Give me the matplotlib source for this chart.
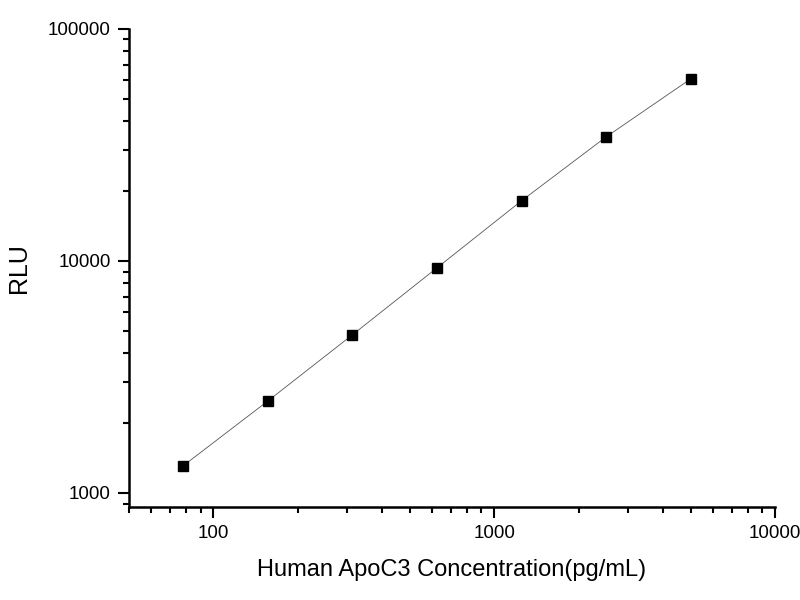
import matplotlib
matplotlib.use("Agg")
import matplotlib.pyplot as plt
from matplotlib.ticker import LogLocator, NullFormatter, FixedLocator, FixedFormatter

plt.rcParams['font.family'] = ['Liberation Sans', 'DejaVu Sans']

conc = [78.125, 156.25, 312.5, 625, 1250, 2500, 5000]
rlu = [1310, 2490, 4800, 9330, 18150, 34200, 60800]

xticks = [100, 1000, 10000]
yticks = [1000, 10000, 100000]

fig = plt.figure(figsize=(8, 6), dpi=100)
ax = fig.add_axes([0.161, 0.155, 0.808, 0.797])

ax.plot(conc, rlu, color="#555555", lw=0.6, marker="s", ms=7,
        mfc="black", mec="black", zorder=3)

ax.set_xscale("log")
ax.set_yscale("log")
ax.set_xlim(50, 10000)
ax.set_ylim(870, 100000)

ax.xaxis.set_major_locator(FixedLocator(xticks))
ax.xaxis.set_major_formatter(FixedFormatter([str(t) for t in xticks]))
ax.yaxis.set_major_locator(FixedLocator(yticks))
ax.yaxis.set_major_formatter(FixedFormatter([str(t) for t in yticks]))
ax.xaxis.set_minor_locator(LogLocator(base=10, subs=range(2, 10)))
ax.yaxis.set_minor_locator(LogLocator(base=10, subs=range(2, 10)))
ax.xaxis.set_minor_formatter(NullFormatter())
ax.yaxis.set_minor_formatter(NullFormatter())

for s in ["top", "right"]:
    ax.spines[s].set_visible(False)
for s in ["left", "bottom"]:
    ax.spines[s].set_linewidth(1.8)

ax.tick_params(which="major", direction="out", length=8, width=1.5, labelsize=13.5, pad=5)
ax.tick_params(which="minor", direction="out", length=4.5, width=1.5)

ax.set_xlabel("Human ApoC3 Concentration(pg/mL)", fontsize=17, labelpad=12)
ax.set_ylabel("RLU", fontsize=18)
ax.yaxis.set_label_coords(-0.152, 0.5)

fig.savefig("out.png", dpi=100)
